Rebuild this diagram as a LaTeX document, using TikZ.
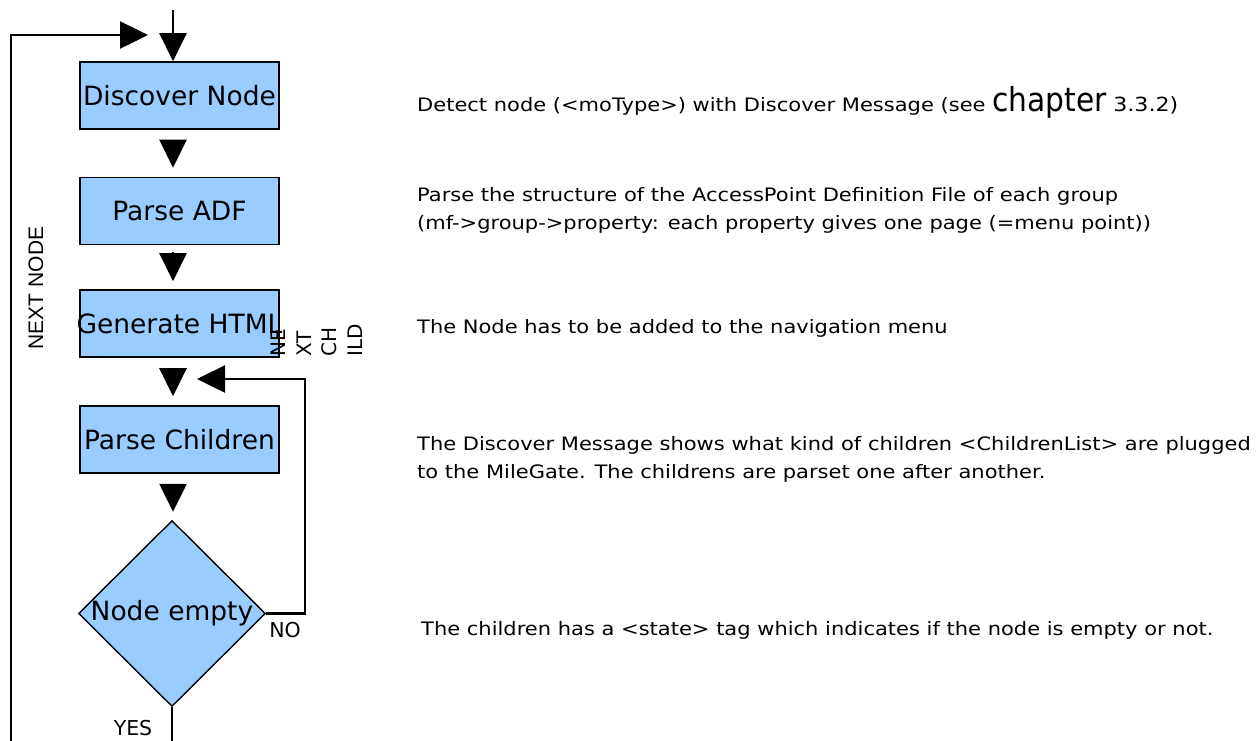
\documentclass[tikz,border=0pt]{standalone}
\usepackage{fontspec}
\setmainfont{DejaVu Sans}
\newfontfamily\descfont[FakeStretch=1.135]{DejaVu Sans}
\newfontfamily\chapfont[FakeStretch=0.9]{DejaVu Sans}
\newfontfamily\arialfont{Liberation Sans}
\usetikzlibrary{shapes.geometric,arrows.meta}
\definecolor{boxblue}{HTML}{99CCFF}
\tikzset{
  stepbox/.style={draw=black, line width=1.6pt, fill=boxblue, minimum width=199pt,
    minimum height=67pt, inner sep=0pt, font=\fontsize{26.5}{30}\selectfont},
  decision/.style={diamond, aspect=1, draw=black, line width=1.4pt, fill=boxblue,
    minimum width=187pt, minimum height=186pt, inner sep=0pt, font=\fontsize{26.5}{30}\selectfont},
  conn/.style={line width=2.5pt, -{Triangle[length=28pt,width=27pt]}},
  desc/.style={anchor=base west, inner sep=0pt, font=\descfont\fontsize{18.5}{22}\selectfont},
  lab/.style={inner sep=0pt, font=\fontsize{20.5}{24}\selectfont},
}
\begin{document}
\begin{tikzpicture}[x=1pt,y=-1pt]
\useasboundingbox (0,0) rectangle (1257,740);
\fill[white] (0,0) rectangle (1257,740);
\clip (0,0) rectangle (1257,740);

% flow boxes
\node[stepbox] (dn)   at (179.5,95.5)  {\makebox[150pt]{Discover Node}};
\node[stepbox] (adf)  at (179.5,211)   {\makebox[150pt]{Parse ADF}};
\node[stepbox] (html) at (179.5,323.5) {\makebox[150pt]{Generate HTML}};
\node[stepbox] (pc)   at (179.5,439.5) {\makebox[150pt]{Parse Children}};
\node[decision] (ne)  at (172,613.5)   {\makebox[100pt]{Node empty}};

% connectors
\coordinate (topin) at (173,10);
\draw[conn] (topin) -- ([xshift=-6.5pt]dn.north);
\draw[conn, shorten <=10pt, shorten >=9pt] ([xshift=-6.5pt]dn.south) -- ([xshift=-6.5pt]adf.north);
\draw[conn, shorten <=7pt, shorten >=8pt] ([xshift=-6.5pt]adf.south) -- ([xshift=-6.5pt]html.north);
\draw[conn, shorten <=10pt, shorten >=9pt] ([xshift=-6.5pt]html.south) -- ([xshift=-6.5pt]pc.north);
\draw[conn, shorten <=10pt, shorten >=8pt] ([xshift=-6.5pt]pc.south) -- ([xshift=-6.5pt]pc.south |- ne.north);

% NO loop
\coordinate (nocorner) at (305,379);
\coordinate (notip) at (197,379);
\draw[conn] (ne.east) -| (nocorner) -- (notip);

% YES / next node loop
\coordinate (botleft) at (11,760);
\coordinate (topleft) at (11,35);
\coordinate (lefttip) at (148,35);
\draw[conn] (ne.south) |- (botleft) -- (topleft) -- (lefttip);

% labels
\node[lab] (no) at (285,630) {NO};
\node[lab] (yes) at (133,728) {YES};
\node[rotate=90, inner sep=0pt, font=\arialfont\fontsize{21}{24}\selectfont] (nextnode) at (36,288) {NEXT NODE};
\node[rotate=90, anchor=north west, align=left, inner sep=0pt, font=\fontsize{20}{25.5}\selectfont] (nextchild) at (271,357) {NE\\XT\\CH\\ILD};

% descriptions
\node[desc] (t1) at (417,111.7) {Detect node (<moType>) with Discover Message (see {\chapfont\fontsize{33}{33}\selectfont chapter} {\fontsize{19.5}{22}\selectfont 3.3.2)}};
\node[desc] (t2) at (417,201.7) {Parse the structure of the AccessPoint Definition File of each group};
\begin{scope}
  \clip (400,0) rectangle (1257,232);
  \node[desc] (t3) at (417,229.5) {(mf->group->property: each property gives one page (=menu point))};
\end{scope}
\node[desc] (t4) at (417,333) {The Node has to be added to the navigation menu};
\node[desc] (t5) at (417,450) {The Discover Message shows what kind of children <ChildrenList> are plugged};
\begin{scope}
  \clip (400,0) rectangle (1257,481);
  \node[desc] (t6) at (417,478) {to the MileGate. The childrens are parset one after another.};
\end{scope}
\node[desc] (t7) at (421,635) {The children has a <state> tag which indicates if the node is empty or not.};
\end{tikzpicture}
\end{document}
